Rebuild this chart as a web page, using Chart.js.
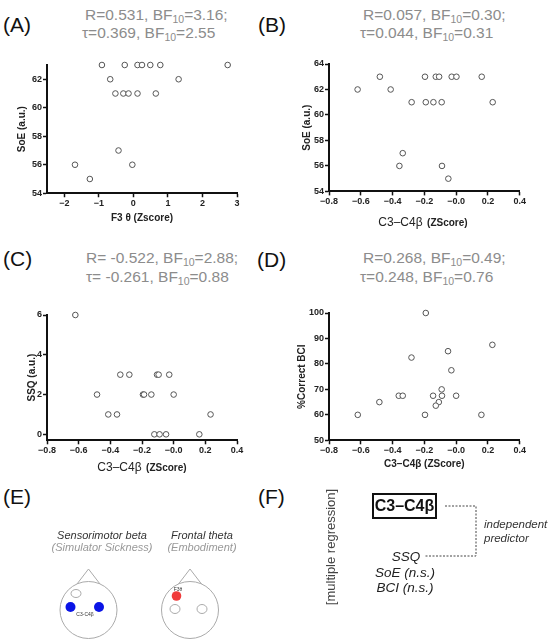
<!DOCTYPE html>
<html>
<head>
<meta charset="utf-8">
<script src="https://cdn.jsdelivr.net/npm/chart.js@4.4.0/dist/chart.umd.min.js"></script>
<style>
  body { margin: 0; width: 550px; height: 642px; position: relative; overflow: hidden; background: #fff;
         font-family: Arial, "Liberation Sans", sans-serif; }
  canvas { position: absolute; }
  .t { position: absolute; white-space: nowrap; }
  .c { transform: translate(-50%, -50%); }
  .lab { font-size: 21px; color: #111; transform: translateY(-50%); }
  .stat { font-size: 15.5px; color: #8c8c8c; transform: translateY(-50%); }
  .stat sub { font-size: 10.5px; vertical-align: -3px; line-height: 0; }
  .xt { color: #222; }
  .xt .a { font-size: 12px; }
  .xt .b { font-size: 10px; font-weight: bold; }
  .it { font-style: italic; }
</style>
</head>
<body>
<canvas id="cA"></canvas>
<canvas id="cB"></canvas>
<canvas id="cC"></canvas>
<canvas id="cD"></canvas>

<!-- panel letters -->
<div class="t lab" style="left:3px;top:25px">(A)</div>
<div class="t lab" style="left:258px;top:25px">(B)</div>
<div class="t lab" style="left:3px;top:259px">(C)</div>
<div class="t lab" style="left:257px;top:260px">(D)</div>
<div class="t lab" style="left:3px;top:497px">(E)</div>
<div class="t lab" style="left:258px;top:497px">(F)</div>

<!-- stats -->
<div class="t stat" style="left:85px;top:15px">R=0.531, BF<sub>10</sub>=3.16;</div>
<div class="t stat" style="left:82px;top:33px">τ=0.369, BF<sub>10</sub>=2.55</div>
<div class="t stat" style="left:363px;top:15px">R=0.057, BF<sub>10</sub>=0.30;</div>
<div class="t stat" style="left:360px;top:33px">τ=0.044, BF<sub>10</sub>=0.31</div>
<div class="t stat" style="left:86px;top:258px">R= -0.522, BF<sub>10</sub>=2.88;</div>
<div class="t stat" style="left:86px;top:277px">τ= -0.261, BF<sub>10</sub>=0.88</div>
<div class="t stat" style="left:363px;top:258px">R=0.268, BF<sub>10</sub>=0.49;</div>
<div class="t stat" style="left:360px;top:277px">τ=0.248, BF<sub>10</sub>=0.76</div>

<!-- x titles with mixed fonts -->
<div class="t c xt" style="left:423px;top:220.5px"><span class="a">C3–C4β</span> <span class="b">(ZScore)</span></div>
<div class="t c xt" style="left:142px;top:466px"><span class="a">C3–C4β</span> <span class="b">(ZScore)</span></div>

<!-- panel E -->
<div class="t c it" style="left:102px;top:535px;font-size:11px;color:#333">Sensorimotor beta</div>
<div class="t c it" style="left:102px;top:547px;font-size:11px;color:#999">(Simulator Sickness)</div>
<div class="t c it" style="left:202px;top:535px;font-size:11px;color:#333">Frontal theta</div>
<div class="t c it" style="left:202px;top:547px;font-size:11px;color:#999">(Embodiment)</div>
<svg class="t" style="left:0;top:0" width="550" height="642">
  <g fill="none" stroke="#aaa" stroke-width="1">
    <circle cx="88.5" cy="610" r="28.5"/>
    <polyline points="77,584 88.5,569 100,584"/>
    <ellipse cx="76" cy="593.5" rx="5" ry="4"/>
    <circle cx="190" cy="610" r="28.5"/>
    <polyline points="178.5,584 190,569 201.5,584"/>
    <ellipse cx="175" cy="609" rx="5" ry="4.5"/>
    <ellipse cx="202" cy="609" rx="5" ry="4.5"/>
  </g>
  <circle cx="70.5" cy="607" r="5" fill="#0a14e6"/>
  <circle cx="99" cy="607" r="5" fill="#0a14e6"/>
  <circle cx="176.5" cy="596" r="4.8" fill="#f03c3c"/>
  <text x="85" y="616" font-size="5" fill="#333" text-anchor="middle" font-family="Arial, Liberation Sans">C3-C4β</text>
  <text x="178" y="591" font-size="5" fill="#333" text-anchor="middle" font-family="Arial, Liberation Sans">F3θ</text>
  <path d="M445 506 H476 V556 H424" fill="none" stroke="#444" stroke-width="1" stroke-dasharray="2,1.5"/>
</svg>

<!-- panel F -->
<div class="t" style="left:330px;top:547px;font-size:13px;color:#444;transform:translate(-50%,-50%) rotate(-90deg)">[multiple regression]</div>
<div class="t" style="left:372px;top:493px;width:65px;height:26px;box-sizing:border-box;border:2px solid #111;font-size:16px;font-weight:bold;color:#111;line-height:22px;text-align:center">C3–C4β</div>
<div class="t it" style="left:484px;top:524px;transform:translateY(-50%);font-size:11.5px;color:#333">independent</div>
<div class="t it" style="left:484px;top:537.5px;transform:translateY(-50%);font-size:11.5px;color:#333">predictor</div>
<div class="t c it" style="left:406px;top:556px;font-size:13.5px;color:#222">SSQ</div>
<div class="t c it" style="left:405px;top:571.5px;font-size:13.5px;color:#222">SoE (n.s.)</div>
<div class="t c it" style="left:405px;top:586.5px;font-size:13.5px;color:#222">BCI (n.s.)</div>

<script>
// (A) F3 theta vs SoE
const aX = [-0.91, -0.25, 0.12, 0.25, 0.49, 0.78, 2.73, -0.67, 1.31, -0.52, -0.29, -0.14, 0.12, 0.65, -0.43, -1.69, -0.03, -1.26];
const aY = [63, 63, 63, 63, 63, 63, 63, 62, 62, 61, 61, 61, 61, 61, 57, 56, 56, 55];
// (B) C3-C4 beta vs SoE
const bX = [-0.48, -0.196, -0.128, -0.107, -0.028, 0.002, 0.161, -0.62, -0.412, -0.28, -0.191, -0.143, -0.091, 0.23, -0.336, -0.357, -0.089, -0.049];
const bY = [63, 63, 63, 63, 63, 63, 63, 62, 62, 61, 61, 61, 61, 61, 57, 56, 56, 55];
// (C) C3-C4 beta vs SSQ
const cX = [-0.621, -0.337, -0.28, -0.105, -0.095, -0.028, -0.484, -0.194, -0.187, -0.141, 0.0, -0.413, -0.358, 0.233, -0.122, -0.089, -0.048, 0.162];
const cY = [6, 3, 3, 3, 3, 3, 2, 2, 2, 2, 2, 1, 1, 1, 0, 0, 0, 0];
// (D) C3-C4 beta vs %correct BCI
const dX = [-0.191, 0.228, -0.051, -0.281, -0.03, -0.091, -0.361, -0.336, -0.145, -0.089, 0.0, -0.483, -0.109, -0.128, -0.619, -0.196, 0.159];
const dY = [100, 87.5, 85, 82.5, 77.5, 70, 67.5, 67.5, 67.5, 67.5, 67.5, 65, 65, 63.6, 60, 60, 60];

// tick values
const ticksAx = [-2, -1, 0, 1, 2, 3];
const ticksAy = [54, 56, 58, 60, 62];
const ticksBeta = [-0.8, -0.6, -0.4, -0.2, 0, 0.2, 0.4];
const ticksSoE = [54, 56, 58, 60, 62, 64];
const ticksSSQ = [0, 2, 4, 6];
const ticksBCI = [50, 60, 70, 80, 90, 100];

const FONT = "Arial, 'Liberation Sans', sans-serif";
const fmtInt = v => (v < 0 ? '−' : '') + Math.abs(v);
const fmtBeta = v => v === 0 ? '−0.0' : (v < 0 ? '−' : '') + Math.abs(v).toFixed(1);

function axis(min, max, ticks, fmt, fit) {
  return {
    type: 'linear', min: min, max: max,
    afterBuildTicks: s => { s.ticks = ticks.map(v => ({ value: v })); },
    afterFit: fit,
    grid: { display: true, drawOnChartArea: false, drawTicks: true, tickLength: 4, tickWidth: 1.5, tickColor: '#111' },
    border: { display: true, width: 2, color: '#111' },
    ticks: { callback: fmt, autoSkip: false, maxRotation: 0, padding: 1, color: '#222',
             font: { family: FONT, size: 9, weight: 'bold' } }
  };
}

function panel(p, xs, ys, xt, yt, xf, yf) {
  const cv = document.getElementById(p.id);
  const cL = p.l - 50, cT = p.t - 20;
  const pl = p.yTitleX - cL - 10;
  const yW = 50 - pl;
  const xH = p.xTitle ? p.xTitleY + 8 - p.b : 22;
  const sb = (p.b - cT) + xH;
  const cw = Math.round(p.r - p.l + 62), ch = Math.round(sb + 4);
  cv.style.left = cL + 'px'; cv.style.top = cT + 'px';
  cv.width = cw; cv.height = ch;
  cv.style.width = cw + 'px'; cv.style.height = ch + 'px';

  const x = axis(p.xMin, p.xMax, xt, xf, s => { s.height = xH; });
  x.title = { display: !!p.xTitle, text: p.xTitle || '', color: '#222', padding: { top: 0, bottom: 2 },
              font: { family: FONT, size: 10, weight: 'bold' } };
  const y = axis(p.yMin, p.yMax, yt, yf, s => { s.width = yW; });
  y.title = { display: true, text: p.yTitle, color: '#222', padding: { top: 4, bottom: 0 },
              font: { family: FONT, size: 10, weight: 'bold' } };

  new Chart(cv, {
    type: 'scatter',
    data: {
      datasets: [{
        data: xs.map((v, i) => ({ x: v, y: ys[i] })),
        pointRadius: 2.8, borderWidth: 1, borderColor: '#555', backgroundColor: '#fff', clip: false
      }]
    },
    options: {
      responsive: false, animation: false, events: [],
      layout: { padding: { left: pl, top: 20, right: cw - (p.r - cL), bottom: ch - sb } },
      plugins: { legend: { display: false }, tooltip: { enabled: false } },
      scales: { x: x, y: y }
    }
  });
}

panel({ id: 'cA', l: 47, t: 64.75, r: 237, b: 193, xMin: -2.5, xMax: 3, yMin: 54, yMax: 63,
        yTitle: 'SoE (a.u.)', yTitleX: 22, xTitle: 'F3 θ (Zscore)', xTitleY: 218 },
      aX, aY, ticksAx, ticksAy, fmtInt, fmtInt);
panel({ id: 'cB', l: 329.3, t: 64.3, r: 520, b: 191.7, xMin: -0.8, xMax: 0.4, yMin: 54, yMax: 64,
        yTitle: 'SoE (a.u.)', yTitleX: 308 },
      bX, bY, ticksBeta, ticksSoE, fmtBeta, fmtInt);
panel({ id: 'cC', l: 46.7, t: 314.7, r: 236.7, b: 440, xMin: -0.8, xMax: 0.4, yMin: -0.3, yMax: 6,
        yTitle: 'SSQ (a.u.)', yTitleX: 31.7 },
      cX, cY, ticksBeta, ticksSSQ, fmtBeta, fmtInt);
panel({ id: 'cD', l: 329.3, t: 312.7, r: 520, b: 440, xMin: -0.8, xMax: 0.4, yMin: 50, yMax: 100,
        yTitle: '%Correct BCI', yTitleX: 303, xTitle: 'C3–C4β (ZScore)', xTitleY: 464 },
      dX, dY, ticksBeta, ticksBCI, fmtBeta, fmtInt);
</script>
</body>
</html>
